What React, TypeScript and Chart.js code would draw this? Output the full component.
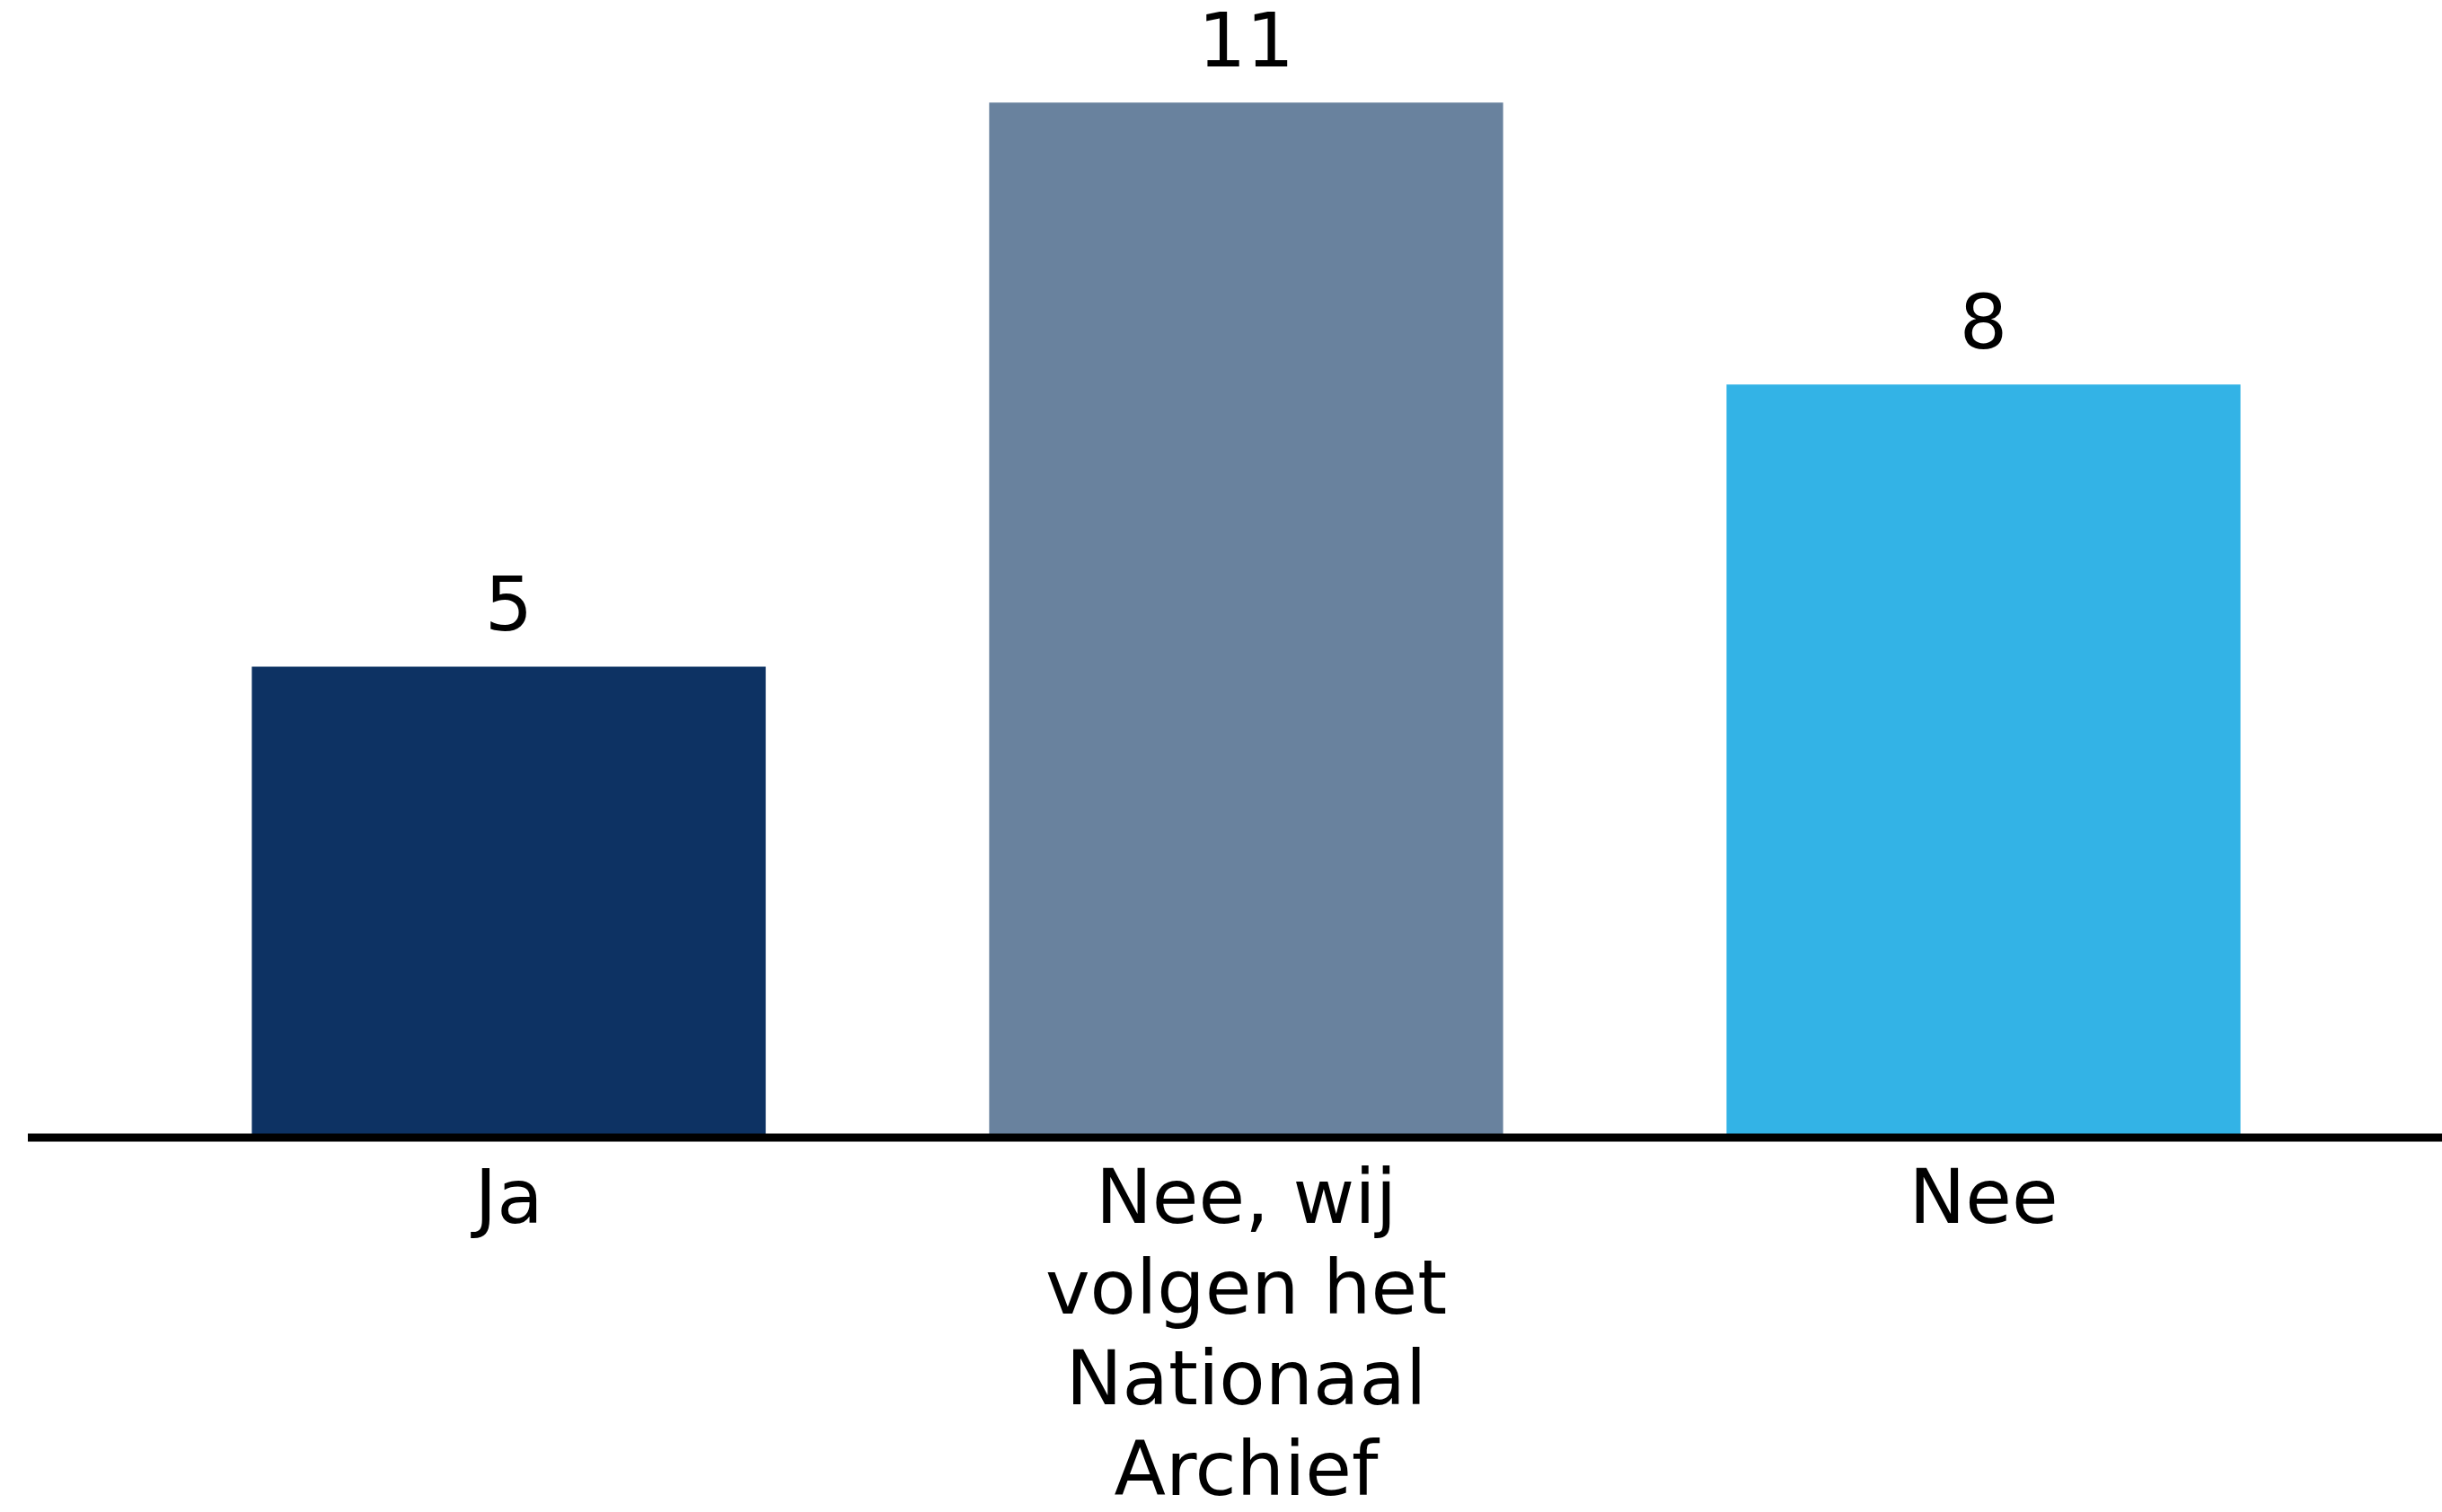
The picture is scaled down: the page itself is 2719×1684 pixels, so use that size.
import React, { useEffect, useRef } from "react";
import { Chart, registerables } from "chart.js";

Chart.register(...registerables);

const categories: string[][] = [
  ["Ja"],
  ["Nee, wij", "volgen het", "Nationaal", "Archief"],
  ["Nee"],
];
const values: number[] = [5, 11, 8];
const barColors: string[] = ["#0D3263", "#69829E", "#33B3E6"];

const W = 2719;
const H = 1684;
const FONT = "'DejaVu Sans', 'Open Sans', sans-serif";

export default function App() {
  const ref = useRef<HTMLCanvasElement | null>(null);
  useEffect(() => {
    const canvas = ref.current;
    if (!canvas) return;
    const axisLine = {
      id: "axisLine",
      afterDatasetsDraw(chart: any) {
        const ctx = chart.ctx;
        const y = chart.chartArea.bottom + 1;
        ctx.save();
        ctx.strokeStyle = "#000000";
        ctx.lineWidth = 9;
        ctx.beginPath();
        ctx.moveTo(31, y);
        ctx.lineTo(W, y);
        ctx.stroke();
        ctx.restore();
      },
    };
    const valueLabels = {
      id: "valueLabels",
      afterDatasetsDraw(chart: any) {
        const ctx = chart.ctx;
        const meta = chart.getDatasetMeta(0);
        ctx.save();
        ctx.fillStyle = "#000000";
        ctx.font = `84px ${FONT}`;
        ctx.textAlign = "center";
        ctx.textBaseline = "middle";
        meta.data.forEach((el: any, i: number) => {
          ctx.fillText(String(values[i]), el.x, el.y - 62);
        });
        ctx.restore();
      },
    };
    const chart = new Chart(canvas, {
      type: "bar",
      data: {
        labels: categories,
        datasets: [
          {
            data: values,
            backgroundColor: barColors,
            borderWidth: 0,
            categoryPercentage: 1,
            barPercentage: 0.697,
          },
        ],
      },
      options: {
        animation: false,
        responsive: false,
        maintainAspectRatio: false,
        layout: { padding: { left: 156, right: 100, top: 0, bottom: 0 } },
        plugins: { legend: { display: false }, tooltip: { enabled: false } },
        scales: {
          x: {
            grid: { display: false, drawTicks: false },
            border: { display: false },
            ticks: {
              color: "#000000",
              padding: 24,
              maxRotation: 0,
              autoSkip: false,
              font: { family: FONT, size: 84, lineHeight: 1.2 },
            },
            afterFit: (scale: any) => {
              scale.height = H - 1266;
            },
          },
          y: {
            display: false,
            min: 0,
            max: 12.09,
          },
        },
      },
      plugins: [axisLine, valueLabels],
    });
    return () => chart.destroy();
  }, []);
  return (
    <div style={{ position: "fixed", left: 0, top: 0, width: W, height: H, background: "#ffffff" }}>
      <canvas ref={ref} width={W} height={H} style={{ width: W, height: H, display: "block" }} />
    </div>
  );
}
